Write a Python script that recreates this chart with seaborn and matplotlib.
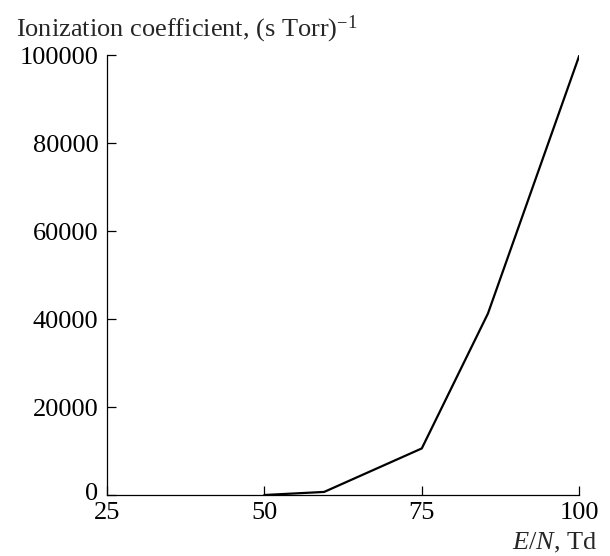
import matplotlib
matplotlib.use("Agg")
import matplotlib.pyplot as plt
import matplotlib.transforms as mtransforms
import seaborn as sns
import pandas as pd

# Data
e_over_n = [50, 59.5, 75, 85.5, 100]
ionization = [0, 700, 10600, 41300, 100000]
x_ticks = [25, 50, 75, 100]
y_ticks = [0, 20000, 40000, 60000, 80000, 100000]
y_tick_labels = ["0", "20000", "40000", "60000", "80000", "100000"]

sns.set_style("ticks")
plt.rcParams["font.family"] = ["Liberation Serif", "DejaVu Serif"]
plt.rcParams["mathtext.fontset"] = "custom"
plt.rcParams["mathtext.rm"] = "Liberation Serif"
plt.rcParams["mathtext.it"] = "Liberation Serif:italic"

df = pd.DataFrame({"x": e_over_n, "y": ionization})

fig = plt.figure(figsize=(6.1, 5.56), dpi=100)
ax = fig.add_axes([0.175, 0.1097, 0.7747, 0.7905])

sns.lineplot(data=df, x="x", y="y", ax=ax, color="black", linewidth=1.6, sort=False)

ax.set_xlim(25, 100)
ax.set_ylim(0, 100000)
ax.set_xticks(x_ticks)
ax.set_xticklabels([str(t) for t in x_ticks])
ax.set_yticks(y_ticks)
ax.set_yticklabels(y_tick_labels)
ax.set_xlabel("")
ax.set_ylabel("")

for s in ["top", "right"]:
    ax.spines[s].set_visible(False)
for s in ["left", "bottom"]:
    ax.spines[s].set_linewidth(0.9)
    ax.spines[s].set_color("black")

ax.tick_params(axis="both", direction="in", length=6.5, width=0.9, color="black",
               labelsize=19, labelcolor="black")
ax.tick_params(axis="y", pad=6)
ax.tick_params(axis="x", pad=5)

# nudge the "0" y tick label up slightly so it does not collide with "25"
zero_lbl = ax.get_yticklabels()[0]
zero_lbl.set_transform(zero_lbl.get_transform() +
                       mtransforms.ScaledTranslation(0, 4 / 100, fig.dpi_scale_trans))

fig.text(16 / 610, 1 - 36 / 556, "Ionization coefficient, (s Torr)$^{-1}$",
         fontsize=19, ha="left", va="baseline")
fig.text(598 / 610, 1 - 549 / 556, "$E/N$, Td", fontsize=19, ha="right", va="baseline")

fig.savefig("out.png", dpi=100, facecolor="white")
